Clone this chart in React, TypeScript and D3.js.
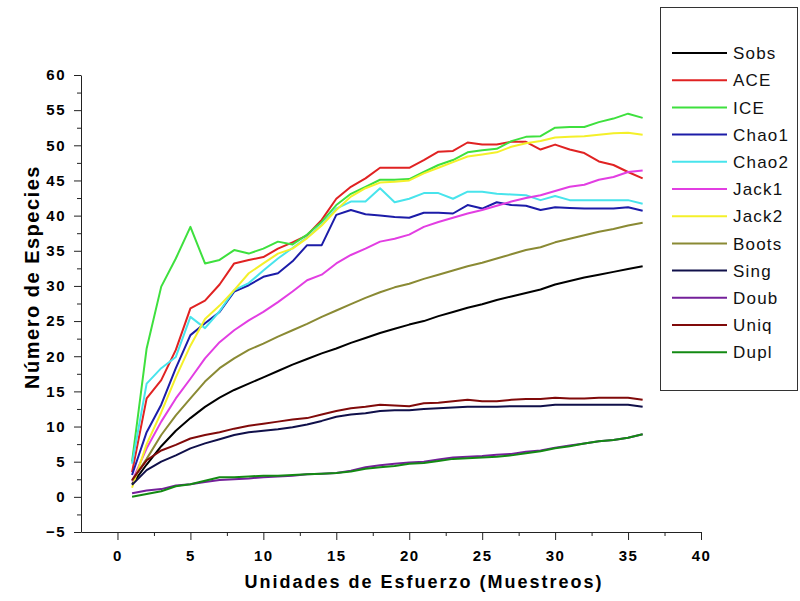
import { useRef, useEffect } from "react";
import * as d3 from "d3";

const muestreos = d3.range(1, 37);

const sobs = [1.8, 4.6, 7.2, 9.4, 11.2, 12.8, 14.1, 15.2, 16.1, 17.0, 17.9, 18.8, 19.6, 20.4, 21.1, 21.9, 22.6, 23.3, 23.9, 24.5, 25.0, 25.7, 26.3, 26.9, 27.4, 28.0, 28.5, 29.0, 29.5, 30.2, 30.7, 31.2, 31.6, 32.0, 32.4, 32.8];
const ace = [3.5, 14.0, 16.6, 20.9, 26.8, 27.9, 30.2, 33.2, 33.7, 34.1, 35.3, 36.2, 37.2, 39.4, 42.4, 44.1, 45.3, 46.8, 46.8, 46.8, 47.9, 49.1, 49.2, 50.4, 50.1, 50.1, 50.5, 50.5, 49.4, 50.1, 49.4, 48.9, 47.7, 47.2, 46.2, 45.3];
const ice = [5.0, 21.1, 29.9, 33.9, 38.4, 33.2, 33.7, 35.1, 34.6, 35.3, 36.3, 35.9, 37.3, 39.1, 41.5, 43.1, 44.1, 45.1, 45.1, 45.2, 46.2, 47.2, 47.9, 49.0, 49.3, 49.5, 50.6, 51.2, 51.3, 52.5, 52.6, 52.6, 53.3, 53.8, 54.5, 53.9];
const chao1 = [3.1, 9.2, 13.1, 18.3, 23.0, 24.7, 26.3, 29.2, 30.1, 31.3, 31.8, 33.5, 35.8, 35.8, 40.1, 40.8, 40.2, 40.0, 39.8, 39.7, 40.4, 40.4, 40.3, 41.5, 41.0, 41.9, 41.5, 41.4, 40.8, 41.2, 41.1, 41.0, 41.0, 41.0, 41.2, 40.7];
const chao2 = [4.7, 16.1, 18.3, 19.9, 25.6, 24.0, 26.4, 29.4, 30.4, 32.2, 33.9, 35.4, 36.9, 38.7, 41.0, 42.0, 42.0, 43.9, 41.9, 42.4, 43.2, 43.2, 42.4, 43.4, 43.4, 43.1, 43.0, 42.9, 42.2, 42.8, 42.2, 42.2, 42.2, 42.2, 42.2, 41.7];
const jack1 = [2.2, 6.9, 10.7, 14.0, 16.8, 19.7, 22.0, 23.7, 25.1, 26.3, 27.7, 29.2, 30.8, 31.6, 33.2, 34.4, 35.3, 36.3, 36.7, 37.3, 38.4, 39.1, 39.7, 40.3, 40.8, 41.4, 42.0, 42.5, 42.9, 43.5, 44.1, 44.4, 45.1, 45.5, 46.2, 46.4];
const jack2 = [1.3, 7.5, 12.0, 17.0, 21.5, 25.3, 27.2, 29.4, 31.8, 33.2, 34.6, 35.3, 36.8, 38.6, 40.8, 42.7, 43.9, 44.7, 44.8, 45.0, 46.0, 46.8, 47.6, 48.4, 48.7, 49.0, 49.8, 50.3, 50.6, 51.1, 51.2, 51.3, 51.5, 51.7, 51.8, 51.5];
const boots = [2.3, 5.4, 8.8, 11.6, 14.0, 16.4, 18.3, 19.7, 20.9, 21.8, 22.8, 23.7, 24.6, 25.6, 26.5, 27.4, 28.3, 29.1, 29.8, 30.3, 31.0, 31.6, 32.2, 32.8, 33.3, 33.9, 34.5, 35.1, 35.5, 36.2, 36.7, 37.2, 37.7, 38.1, 38.6, 39.0];
const sing = [1.7, 3.8, 5.0, 5.9, 6.9, 7.6, 8.2, 8.8, 9.2, 9.4, 9.6, 9.9, 10.3, 10.8, 11.4, 11.7, 11.9, 12.2, 12.3, 12.3, 12.5, 12.6, 12.7, 12.8, 12.8, 12.8, 12.9, 12.9, 12.9, 13.1, 13.1, 13.1, 13.1, 13.1, 13.1, 12.8];
const doub = [0.5, 0.9, 1.1, 1.6, 1.8, 2.1, 2.4, 2.5, 2.6, 2.8, 2.9, 3.0, 3.2, 3.3, 3.4, 3.7, 4.2, 4.5, 4.7, 4.9, 5.0, 5.3, 5.6, 5.7, 5.8, 6.0, 6.1, 6.4, 6.6, 7.0, 7.3, 7.6, 7.9, 8.1, 8.4, 8.9];
const uniq = [2.4, 5.2, 6.6, 7.4, 8.3, 8.8, 9.2, 9.7, 10.1, 10.4, 10.7, 11.0, 11.2, 11.7, 12.2, 12.6, 12.8, 13.1, 13.0, 12.9, 13.3, 13.4, 13.6, 13.8, 13.6, 13.6, 13.8, 13.9, 13.9, 14.1, 14.0, 14.0, 14.1, 14.1, 14.1, 13.8];
const dupl = [0.0, 0.4, 0.8, 1.5, 1.8, 2.3, 2.8, 2.8, 2.9, 3.0, 3.0, 3.1, 3.2, 3.3, 3.4, 3.6, 4.0, 4.2, 4.4, 4.7, 4.8, 5.1, 5.4, 5.5, 5.6, 5.7, 5.9, 6.2, 6.5, 6.9, 7.2, 7.6, 7.9, 8.1, 8.4, 8.9];

const nombres = ["Sobs", "ACE", "ICE", "Chao1", "Chao2", "Jack1", "Jack2", "Boots", "Sing", "Doub", "Uniq", "Dupl"];
const valores = [sobs, ace, ice, chao1, chao2, jack1, jack2, boots, sing, doub, uniq, dupl];
const colores = ["#000000", "#e02222", "#3ee03e", "#1c1ca8", "#48e4ec", "#e23ee2", "#f4f02a", "#8a8a34", "#10104a", "#74209a", "#800a0a", "#138a13"];

const xTicks = d3.range(0, 41, 5);
const yTicks = d3.range(-5, 61, 5);

function drawChart(svgRef) {
    const width = 800, height = 601;
    const font = "Arial, 'Liberation Sans', sans-serif";

    const x = d3.scaleLinear().domain([-2.5, 40]).range([81, 701]);
    const y = d3.scaleLinear().domain([-5, 60]).range([532, 75]);

    let svg = d3.select(svgRef.current);
    svg.selectAll("*").remove();
    svg = svg.attr("viewBox", `0 0 ${width} ${height}`)
        .attr("width", width)
        .attr("height", height);

    svg.append("rect").attr("width", width).attr("height", height).attr("fill", "#fff");

    // lineas
    const line = d3.line().x(d => x(d[0])).y(d => y(d[1]));
    valores.forEach((serie, i) => {
        svg.append("path")
            .datum(muestreos.map((m, j) => [m, serie[j]]))
            .attr("d", line)
            .attr("fill", "none")
            .attr("stroke", colores[i])
            .attr("stroke-width", 2)
            .attr("stroke-linejoin", "round");
    });

    // eje x
    const gx = svg.append("g").attr("transform", `translate(0,${y(-5)})`);
    gx.call(d3.axisBottom(x).tickValues(xTicks).tickSize(8).tickSizeOuter(0).tickFormat(d3.format("d")));
    gx.append("g").call(d3.axisBottom(x).tickValues(d3.range(2.5, 40, 5)).tickSize(4).tickFormat(""))
        .select(".domain").remove();
    gx.selectAll("text")
        .attr("y", 18)
        .attr("font-size", 15)
        .attr("font-weight", "bold")
        .attr("letter-spacing", 1.5)
        .attr("font-family", font)
        .attr("fill", "#000");

    // eje y
    const gy = svg.append("g").attr("transform", `translate(${x(-2.5)},0)`);
    gy.call(d3.axisLeft(y).tickValues(yTicks).tickSize(7).tickSizeOuter(0).tickFormat(d3.format("d")));
    gy.append("g").call(d3.axisLeft(y).tickValues(d3.range(-2.5, 60, 5)).tickSize(4).tickFormat(""))
        .select(".domain").remove();
    gy.selectAll("text")
        .attr("x", -15)
        .attr("font-size", 15)
        .attr("font-weight", "bold")
        .attr("letter-spacing", 1.5)
        .attr("font-family", font)
        .attr("fill", "#000");

    svg.selectAll(".domain, .tick line").attr("stroke", "#222").attr("stroke-width", 1);

    // titulos
    svg.append("text")
        .attr("x", 424).attr("y", 588)
        .attr("text-anchor", "middle")
        .attr("font-size", 18).attr("font-weight", "bold")
        .attr("letter-spacing", 2)
        .attr("font-family", font)
        .text("Unidades de Esfuerzo (Muestreos)");

    svg.append("text")
        .attr("transform", "translate(39,277) rotate(-90)")
        .attr("text-anchor", "middle")
        .attr("font-size", 20).attr("font-weight", "bold")
        .attr("letter-spacing", 1.5)
        .attr("font-family", font)
        .text("Número de Especies");

    // leyenda
    const leg = svg.append("g");
    leg.append("rect")
        .attr("x", 660.5).attr("y", 7.5).attr("width", 137).attr("height", 383)
        .attr("fill", "none").attr("stroke", "#333").attr("stroke-width", 1);
    nombres.forEach((n, i) => {
        const yy = 53 + i * 27.2;
        leg.append("line")
            .attr("x1", 672).attr("x2", 727).attr("y1", yy).attr("y2", yy)
            .attr("stroke", colores[i]).attr("stroke-width", 2);
        leg.append("text")
            .attr("x", 733).attr("y", yy).attr("dy", "0.36em")
            .attr("font-size", 17)
            .attr("letter-spacing", 1.2)
            .attr("font-family", font)
            .attr("fill", "#111")
            .text(n);
    });
}

export default function App() {
    const svg = useRef(null);
    useEffect(() => {
        drawChart(svg);
    }, [svg]);

    return <svg ref={svg} style={{ position: "absolute", left: 0, top: 0, display: "block" }} />;
}
